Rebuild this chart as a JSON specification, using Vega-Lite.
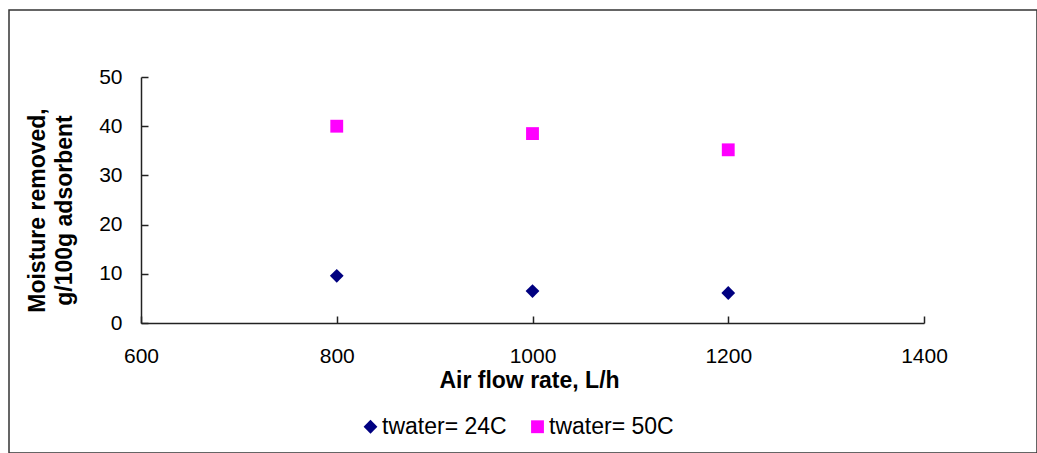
{
  "$schema": "https://vega.github.io/schema/vega-lite/v6.json",
  "width": 1028,
  "height": 443,
  "autosize": {"type": "none"},
  "padding": {"left": 9, "top": 10, "right": 0, "bottom": 0},
  "background": "white",
  "config": {
    "view": {"stroke": "#333333", "strokeWidth": 1.5},
    "font": "Liberation Sans"
  },
  "data": {
    "values": [
      {"flow": 800, "moisture": 9.6, "series": "twater= 24C"},
      {"flow": 1000, "moisture": 6.5, "series": "twater= 24C"},
      {"flow": 1200, "moisture": 6.1, "series": "twater= 24C"},
      {"flow": 800, "moisture": 40.0, "series": "twater= 50C"},
      {"flow": 1000, "moisture": 38.5, "series": "twater= 50C"},
      {"flow": 1200, "moisture": 35.2, "series": "twater= 50C"}
    ]
  },
  "mark": {"type": "point", "filled": true, "opacity": 1},
  "encoding": {
    "x": {
      "field": "flow",
      "type": "quantitative",
      "scale": {"domain": [600, 1400], "range": [132, 915], "nice": false, "zero": false},
      "axis": {
        "title": "Air flow rate, L/h",
        "values": [600, 800, 1000, 1200, 1400],
        "format": "d",
        "offset": -130,
        "grid": false,
        "tickSize": -7,
        "labelPadding": 29,
        "labelFontSize": 21,
        "labelColor": "#000000",
        "labelFlush": false,
        "labelOverlap": false,
        "domainColor": "#222222",
        "domainWidth": 1.5,
        "tickColor": "#222222",
        "tickWidth": 1.5,
        "titleFontSize": 23,
        "titleFontWeight": "bold",
        "titleColor": "#000000",
        "titleX": 520,
        "titleY": 64,
        "titleBaseline": "alphabetic"
      }
    },
    "y": {
      "field": "moisture",
      "type": "quantitative",
      "scale": {"domain": [0, 50], "range": [313, 67], "nice": false},
      "axis": {
        "title": ["Moisture removed,", "g/100g adsorbent"],
        "values": [0, 10, 20, 30, 40, 50],
        "format": "d",
        "offset": -132,
        "grid": false,
        "tickSize": -7,
        "labelPadding": 26,
        "labelFontSize": 21,
        "labelColor": "#000000",
        "labelFlush": false,
        "labelOverlap": false,
        "domainColor": "#222222",
        "domainWidth": 1.5,
        "tickColor": "#222222",
        "tickWidth": 1.5,
        "titleFontSize": 23,
        "titleFontWeight": "bold",
        "titleColor": "#000000",
        "titleLineHeight": 27,
        "titleAngle": -90,
        "titleAlign": "center",
        "titleBaseline": "middle",
        "titleX": -104,
        "titleY": 200
      }
    },
    "size": {
      "field": "series",
      "type": "nominal",
      "scale": {"domain": ["twater= 24C", "twater= 50C"], "range": [190, 165]},
      "legend": null
    },
    "color": {
      "field": "series",
      "type": "nominal",
      "scale": {"domain": ["twater= 24C", "twater= 50C"], "range": ["#000080", "#FF00FF"]},
      "legend": {
        "title": null,
        "orient": "none",
        "direction": "horizontal",
        "legendX": 350,
        "legendY": 405,
        "symbolSize": 140,
        "symbolOpacity": 1,
        "labelFontSize": 23,
        "labelColor": "#000000",
        "labelOffset": 0,
        "columnPadding": 19
      }
    },
    "shape": {
      "field": "series",
      "type": "nominal",
      "scale": {"domain": ["twater= 24C", "twater= 50C"], "range": ["diamond", "square"]},
      "legend": {
        "title": null,
        "orient": "none",
        "direction": "horizontal",
        "legendX": 350,
        "legendY": 405,
        "symbolSize": 140,
        "symbolOpacity": 1,
        "labelFontSize": 23,
        "labelColor": "#000000",
        "labelOffset": 0,
        "columnPadding": 19
      }
    }
  }
}
